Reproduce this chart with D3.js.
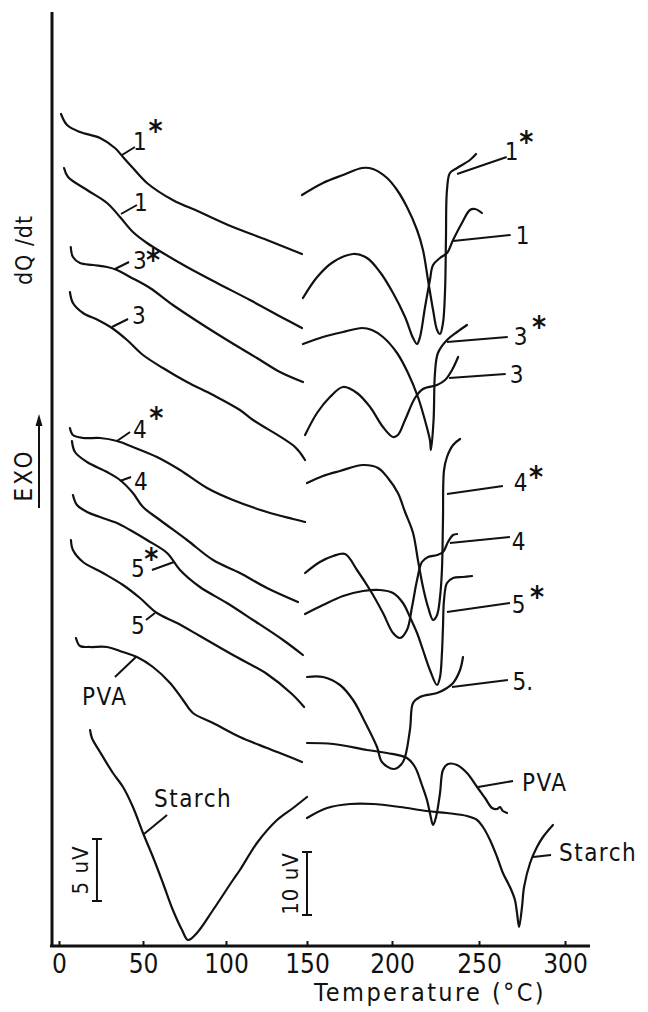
<!DOCTYPE html>
<html>
<head>
<meta charset="utf-8">
<script src="https://cdn.jsdelivr.net/npm/d3@7"></script>
<style>
body { margin: 0; background: #fff; }
svg { display: block; }
text { font-family: "DejaVu Sans Condensed", "DejaVu Sans", "Liberation Sans Narrow", sans-serif; fill: #111; }
</style>
</head>
<body>
<div id="chart"></div>
<script>
// DSC traces: [temperature °C, dQ/dt in arbitrary units]
var tempTicks = [0, 50, 100, 150, 200, 250, 300];

// 0-150 °C runs (left block)
var run1sLow = [[1.2,832],[4.8,821],[12.5,814],[24.4,808],[33.3,798],[38.1,789],[44.0,778],[52.4,763],[67.9,746],[84.2,734],[104.3,719],[125.3,706],[146.9,692]];
var run1Low = [[3.0,778],[5.4,769],[16.7,756],[28.6,743],[36.3,729],[44.0,714],[52.4,703],[62.0,693],[76.5,679],[94.6,663],[114.8,646],[135.2,628],[146.9,618]];
var run3sLow = [[7.0,699],[8.3,689],[12.5,683],[20.2,681],[28.6,679],[34.5,676],[42.3,669],[54.2,658],[68.0,641],[84.3,623],[100.6,606],[119.1,588],[133.3,574],[147.5,564]];
var run3Low = [[6.5,654],[8.3,643],[14.3,633],[23.2,626],[31.5,618],[40.5,606],[50.0,591],[62.0,578],[76.5,564],[92.2,551],[108.6,536],[116.7,526],[142.6,499],[148.8,486]];
var run4sLow = [[6.5,518],[8.3,511],[14.3,508],[24.4,508],[34.5,505],[44.0,499],[58.4,489],[72.3,476],[88.6,458],[104.3,446],[125.3,434],[141.4,427],[148.8,424]];
var run4Low = [[7.7,505],[9.5,494],[16.7,484],[28.6,474],[36.3,466],[44.0,453],[50.0,439],[60.2,426],[76.5,406],[92.2,386],[108.6,373],[125.3,358],[144.4,344]];
var run5sLow = [[8.3,451],[10.7,441],[16.7,434],[24.4,429],[34.5,423],[42.3,416],[52.4,406],[64.5,393],[72.3,376],[84.3,359],[100.6,343],[116.7,326],[135.2,306],[147.5,291]];
var run5Low = [[7.1,406],[8.3,396],[14.3,384],[26.2,373],[38.1,361],[48.2,348],[58.4,333],[70.5,323],[84.3,310],[104.3,291],[125.3,272],[140.7,252],[148.2,239]];
var pvaLow = [[10.1,308],[12.5,300],[18.5,299],[28.6,299],[38.1,294],[46.4,289],[56.0,279],[66.3,263],[74.1,246],[80.1,233],[92.2,223],[108.6,209],[125.3,198],[139.5,189],[146.9,184]];
var starchLow = [[18.5,216],[19.6,208],[24.4,194],[32.1,173],[38.1,159],[44.0,139],[50.0,113],[56.0,89],[62.0,63],[68.0,36],[73.5,16],[77.1,6],[82.5,13],[92.2,36],[104.3,66],[108.6,76],[119.1,103],[131.5,126],[141.4,138],[150.0,149]];

// 150-300 °C runs (right block)
var run1sHigh = [[146.9,751],[159.4,763],[171.2,771],[182.4,778],[188.8,777],[197.1,768],[202.9,756],[208.6,739],[214.4,716],[217.8,696],[220.7,666],[223.6,636],[225.9,616],[227.6,612],[229.3,623],[230.5,656],[231.0,706],[231.6,756],[233.3,773],[237.4,778],[244.8,786],[248.3,792]];
var run1High = [[147.5,648],[156.0,669],[165.4,684],[177.1,692],[185.3,688],[192.9,674],[200.6,653],[207.5,629],[212.1,608],[214.4,602],[216.1,609],[219.0,639],[221.8,666],[223.6,681],[227.6,688],[231.6,693],[235.1,706],[240.2,723],[244.8,736],[247.7,737],[251.7,733]];
var run3sHigh = [[147.5,602],[159.4,609],[171.2,614],[182.4,618],[188.2,616],[194.7,609],[202.9,593],[209.2,573],[214.9,549],[218.9,526],[221.8,506],[222.4,496],[223.9,526],[224.7,573],[226.4,593],[231.6,606],[237.4,614],[243.1,621]];
var run3High = [[148.8,511],[155.9,533],[163.5,549],[171.2,559],[179.4,553],[187.1,539],[194.7,519],[200.6,509],[203.4,511],[207.5,526],[213.2,548],[217.8,557],[225.9,561],[230.5,566],[234.5,576],[238.0,589]];
var run4sHigh = [[150.0,463],[159.4,470],[169.4,475],[182.9,481],[191.8,478],[197.6,468],[203.4,453],[207.5,434],[212.1,413],[214.9,386],[217.8,359],[220.7,339],[223.6,326],[225.9,331],[227.6,349],[228.7,376],[229.3,426],[229.9,476],[231.6,489],[235.1,501],[239.1,507]];
var run4High = [[148.8,373],[157.6,384],[165.4,390],[172.4,392],[179.4,376],[187.1,356],[194.7,333],[200.6,313],[204.6,308],[208.6,316],[211.5,339],[214.4,366],[217.2,384],[220.7,389],[225.9,391],[229.3,394],[232.2,404],[235.1,411],[237.4,412]];
var run5sHigh = [[148.8,332],[159.4,341],[171.2,350],[182.9,355],[192.9,356],[200.6,353],[206.3,343],[210.3,329],[214.4,313],[217.8,296],[221.8,276],[225.9,261],[227.6,269],[228.7,293],[229.3,319],[229.9,346],[231.6,363],[235.1,368],[240.8,369],[246.0,370]];
var run5High = [[150.0,269],[159.4,269],[169.4,261],[177.1,246],[182.9,228],[191.2,199],[194.1,184],[201.1,177],[206.3,184],[210.3,216],[212.1,243],[216.1,249],[225.9,253],[231.6,258],[235.1,263],[239.1,276],[240.8,289]];
var pvaHigh = [[150.0,203],[165.4,202],[185.3,196],[197.1,193],[208.6,188],[213.2,179],[217.2,161],[220.1,146],[221.8,133],[223.6,121],[225.3,129],[227.6,153],[229.3,176],[232.2,182],[237.4,181],[243.1,173],[248.9,159],[253.5,148],[257.6,138],[260.5,137],[262.2,139],[263.9,135],[266.3,133]];
var starchHigh = [[150.0,128],[161.8,138],[175.3,142],[188.8,142],[204.6,139],[220.1,135],[231.6,133],[243.1,130],[248.9,126],[252.3,119],[256.4,106],[260.5,89],[263.9,73],[268.0,59],[270.9,46],[272.1,33],[273.3,19],[275.0,39],[276.2,59],[279.7,83],[283.7,99],[287.2,109],[293.0,121]];

var traces = [run1sLow, run1Low, run3sLow, run3Low, run4sLow, run4Low, run5sLow, run5Low, pvaLow, starchLow,
              run1sHigh, run1High, run3sHigh, run3High, run4sHigh, run4High, run5sHigh, run5High, pvaHigh, starchHigh];

// curve labels with leader lines (leader from curve -> label), in data units
var labels = [
  {text: "1", star: true,  from: [37.5,791], to: [45.2,799], at: [48.2,805], starAt: [57.6,822]},
  {text: "1", star: false, from: [36.9,732], to: [46.4,741], at: [48.8,744]},
  {text: "3", star: true,  from: [33.3,677], to: [41.7,684], at: [48.2,686], starAt: [56.0,693]},
  {text: "3", star: false, from: [31.5,619], to: [41.1,627], at: [47.6,631]},
  {text: "4", star: true,  from: [34.5,505], to: [42.3,514], at: [48.2,517], starAt: [58.0,535]},
  {text: "4", star: false, from: [36.3,465], to: [42.9,469], at: [48.8,465]},
  {text: "5", star: true,  from: [68.7,384], to: [55.4,376], at: [47.0,378], starAt: [55.0,394]},
  {text: "5", star: false, from: [57.2,333], to: [51.8,326], at: [47.0,321]},
  {text: "1", star: true,  from: [237.4,772], to: [266.1,789], at: [269.0,795], starAt: [277.5,811]},
  {text: "1", star: false, from: [235.1,705], to: [268.4,711], at: [275.4,711]},
  {text: "3", star: true,  from: [231.6,604], to: [266.7,609], at: [274.2,610], starAt: [284.9,626]},
  {text: "3", star: false, from: [232.8,568], to: [265.5,572], at: [271.8,572]},
  {text: "4", star: true,  from: [231.6,452], to: [263.9,460], at: [274.2,464], starAt: [283.1,476]},
  {text: "4", star: false, from: [233.3,403], to: [268.0,409], at: [273.0,405]},
  {text: "5", star: true,  from: [231.6,334], to: [268.0,343], at: [273.0,342], starAt: [283.7,356]},
  {text: "5.", star: false, from: [234.5,259], to: [266.8,266], at: [273.6,265]}
];
var wordLabels = [
  {text: "PVA",    from: [45.8,289],  to: [33.3,269],  at: [13.7,250]},
  {text: "Starch", from: [50.6,112],  to: [64.5,131],  at: [56.6,148]},
  {text: "PVA",    from: [249.5,159], to: [269.8,165], at: [275.0,164]},
  {text: "Starch", from: [281.4,89],  to: [291.9,91],  at: [296.5,94]}
];
// calibration bars
var scaleBars = [
  {text: "5 uV",  t: 22.6,  s0: 45, s1: 107, textT: 12.5},
  {text: "10 uV", t: 150.0, s0: 31, s1: 94,  textT: 139.5}
];

var width = 648, height = 1012;

var svg = d3.select("#chart")
    .append("svg")
    .attr("width", width)
    .attr("height", height);

// the hand-drawn ticks are not evenly spaced, so map each tick to its place
var x = d3.scaleLinear()
    .domain(tempTicks)
    .range([59, 143, 226, 307, 392, 479, 565]);

var y = d3.scaleLinear()
    .domain([0, 934])
    .range([946, 12]);

var line = d3.line()
    .x(function(d) { return x(d[0]); })
    .y(function(d) { return y(d[1]); })
    .curve(d3.curveCatmullRom.alpha(0.5));

svg.selectAll(".trace")
    .data(traces)
    .enter()
    .append("path")
    .attr("class", "trace")
    .attr("d", line)
    .attr("fill", "none")
    .attr("stroke", "#111")
    .attr("stroke-width", 2.2)
    .attr("stroke-linecap", "round")
    .attr("stroke-linejoin", "round");

// frame
svg.append("line")
    .attr("x1", 52).attr("x2", 52)
    .attr("y1", 12).attr("y2", 947)
    .attr("stroke", "#111").attr("stroke-width", 3);
svg.append("line")
    .attr("x1", 50).attr("x2", 590)
    .attr("y1", 946).attr("y2", 946)
    .attr("stroke", "#111").attr("stroke-width", 3);

var xAxis = svg.append("g")
    .attr("transform", "translate(0,946)")
    .call(d3.axisBottom(x).tickValues(tempTicks).tickSizeInner(-5).tickSizeOuter(0).tickPadding(9));
xAxis.select(".domain").remove();
xAxis.selectAll(".tick line").attr("stroke", "#111").attr("stroke-width", 2);
xAxis.selectAll(".tick text")
    .attr("fill", "#111")
    .style("font-size", "26px")
    .style("font-family", "\"DejaVu Sans Condensed\", \"DejaVu Sans\", sans-serif");

svg.append("text")
    .attr("x", 430)
    .attr("y", 1001)
    .attr("text-anchor", "middle")
    .style("font-size", "25px")
    .style("letter-spacing", "2.4px")
    .text("Temperature (°C)");

// y labels
svg.append("text")
    .attr("transform", "translate(32,250) rotate(-90)")
    .attr("text-anchor", "middle")
    .style("font-size", "23px")
    .style("letter-spacing", "1px")
    .text("dQ /dt");
svg.append("text")
    .attr("transform", "translate(32,475) rotate(-90)")
    .attr("text-anchor", "middle")
    .style("font-size", "24px")
    .style("letter-spacing", "3px")
    .text("EXO");
svg.append("line")
    .attr("x1", 39).attr("x2", 39)
    .attr("y1", 508).attr("y2", 422)
    .attr("stroke", "#111").attr("stroke-width", 2);
svg.append("path")
    .attr("d", "M39,414 L35.5,426 L42.5,426 Z")
    .attr("fill", "#111");

// leader lines
var leaders = labels.concat(wordLabels);
svg.selectAll(".leader")
    .data(leaders)
    .enter()
    .append("line")
    .attr("class", "leader")
    .attr("x1", function(d) { return x(d.from[0]); })
    .attr("y1", function(d) { return y(d.from[1]); })
    .attr("x2", function(d) { return x(d.to[0]); })
    .attr("y2", function(d) { return y(d.to[1]); })
    .attr("stroke", "#111")
    .attr("stroke-width", 2);

var labelSize = 24;
svg.selectAll(".num")
    .data(labels)
    .enter()
    .append("text")
    .attr("class", "num")
    .attr("x", function(d) { return x(d.at[0]); })
    .attr("y", function(d) { return y(d.at[1]) + 0.365 * labelSize; })
    .attr("text-anchor", function(d) { return d.text.length > 1 ? "start" : "middle"; })
    .attr("dx", function(d) { return d.text.length > 1 ? -7 : 0; })
    .style("font-size", labelSize + "px")
    .text(function(d) { return d.text; });

var starSize = 30;
svg.selectAll(".star")
    .data(labels.filter(function(d) { return d.star; }))
    .enter()
    .append("text")
    .attr("class", "star")
    .attr("x", function(d) { return x(d.starAt[0]); })
    .attr("y", function(d) { return y(d.starAt[1]) + 0.58 * starSize; })
    .attr("text-anchor", "middle")
    .style("font-size", starSize + "px")
    .style("font-weight", "bold")
    .text("*");

svg.selectAll(".word")
    .data(wordLabels)
    .enter()
    .append("text")
    .attr("class", "word")
    .attr("x", function(d) { return x(d.at[0]); })
    .attr("y", function(d) { return y(d.at[1]) + 0.365 * labelSize; })
    .style("font-size", labelSize + "px")
    .style("letter-spacing", "1.5px")
    .text(function(d) { return d.text; });

// calibration bars
var bars = svg.selectAll(".bar")
    .data(scaleBars)
    .enter()
    .append("g")
    .attr("class", "bar");
bars.append("line")
    .attr("x1", function(d) { return x(d.t); })
    .attr("x2", function(d) { return x(d.t); })
    .attr("y1", function(d) { return y(d.s0); })
    .attr("y2", function(d) { return y(d.s1); })
    .attr("stroke", "#111").attr("stroke-width", 2);
bars.selectAll(".cap")
    .data(function(d) { return [[d.t, d.s0], [d.t, d.s1]]; })
    .enter()
    .append("line")
    .attr("x1", function(d) { return x(d[0]) - 5; })
    .attr("x2", function(d) { return x(d[0]) + 5; })
    .attr("y1", function(d) { return y(d[1]); })
    .attr("y2", function(d) { return y(d[1]); })
    .attr("stroke", "#111").attr("stroke-width", 2);
bars.append("text")
    .attr("transform", function(d) {
        return "translate(" + (x(d.textT) + 8) + "," + y((d.s0 + d.s1) / 2) + ") rotate(-90)";
    })
    .attr("text-anchor", "middle")
    .style("font-size", "22px")
    .style("letter-spacing", "1px")
    .text(function(d) { return d.text; });
</script>
</body>
</html>
